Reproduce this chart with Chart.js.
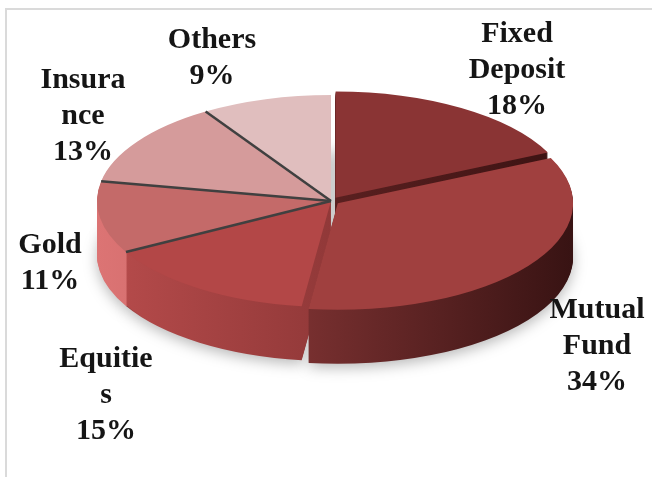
<!DOCTYPE html>
<html>
<head>
<meta charset="utf-8">
<script src="https://cdn.jsdelivr.net/npm/chart.js@4"></script>
<style>
  html, body { margin: 0; background: #fff; overflow: hidden; }
  #contenedor { position: absolute; left: 0; top: 0; width: 652px; height: 477px; }
</style>
</head>
<body>
<div id="contenedor"><canvas id="graficoInversion" width="652" height="477"></canvas></div>
<script>
// Datos del gráfico
const CATEGORIAS = [['Fixed', 'Deposit'], ['Mutual', 'Fund'], ['Equitie', 's'], ['Gold'], ['Insura', 'nce'], ['Others']];
const PORCENTAJES = [18, 34, 15, 11, 13, 9];

// Estilo de cada porción (cara superior y lateral)
const COLORES = ['#8a3434', '#a0403f', '#b34747', '#c46a69', '#d59b9b', '#e0bebe'];
const COLORES_LATERAL = [
  ['#7a2e2e', '#3a1212'],
  ['#a84545', '#381313'],
  ['#b84c4c', '#6a2525'],
  ['#dc7474', '#a44a4a'],
  ['#d89494', '#b06a6a'],
  ['#dab2b2', '#b08484']
];
const DESPLAZAMIENTO = [32, 32, 0, 0, 0, 0];

// Geometría de la elipse en pantalla
const CENTRO_X = 331;
const CENTRO_Y = 201;
const RADIO_X = 234;
const RADIO_Y = 106;
const PROFUNDIDAD = 54;

// Posición de las etiquetas: centro x, primera línea base
const POS_ETIQUETAS = [[517, 42], [597, 318], [106, 367], [50, 253], [83, 88], [212, 48]];
const ALTO_LINEA = 36;

// Aplana el pastel circular de Chart.js a una elipse
function aplicarElipse(ctx, arco) {
  const sx = RADIO_X / arco.outerRadius;
  const sy = RADIO_Y / arco.outerRadius;
  ctx.translate(CENTRO_X, CENTRO_Y);
  ctx.scale(sx, sy);
  ctx.translate(-arco.x, -arco.y);
}

const pastel3D = {
  id: 'pastel3D',
  beforeDraw(chart) {
    // Marco gris del área del gráfico (solo borde izquierdo y superior)
    const ctx = chart.ctx;
    ctx.save();
    ctx.strokeStyle = '#dadada';
    ctx.lineWidth = 2;
    ctx.beginPath();
    ctx.moveTo(6, chart.height);
    ctx.lineTo(6, 9);
    ctx.lineTo(chart.width, 9);
    ctx.stroke();
    ctx.restore();
  },
  beforeDatasetsDraw(chart) {
    const ctx = chart.ctx;
    const arcos = chart.getDatasetMeta(0).data;
    const base = arcos[0];
    const R = base.outerRadius;

    // Cara lateral: capas de abajo hacia arriba
    for (let d = PROFUNDIDAD; d >= 1; d--) {
      ctx.save();
      if (d === PROFUNDIDAD) {
        ctx.shadowColor = 'rgba(0, 0, 0, 0.28)';
        ctx.shadowBlur = 14;
        ctx.shadowOffsetY = 4;
      }
      ctx.translate(0, d);
      aplicarElipse(ctx, base);
      arcos.forEach((arco, i) => {
        const grad = ctx.createLinearGradient(base.x - R, 0, base.x + R, 0);
        grad.addColorStop(0, COLORES_LATERAL[i][0]);
        grad.addColorStop(1, COLORES_LATERAL[i][1]);
        const copia = Object.create(arco);
        copia.options = Object.assign({}, arco.options, { backgroundColor: grad, borderWidth: 0 });
        copia.draw(ctx);
      });
      ctx.restore();
    }

    // Cara superior: la dibuja Chart.js con la transformación activa
    ctx.save();
    aplicarElipse(ctx, base);
  },
  afterDatasetsDraw(chart) {
    const ctx = chart.ctx;
    ctx.restore();

    const arcos = chart.getDatasetMeta(0).data;
    const n = arcos.length;

    // Líneas entre porciones contiguas que no están separadas
    ctx.save();
    ctx.strokeStyle = '#404040';
    ctx.lineWidth = 2.5;
    for (let i = 0; i < n; i++) {
      const anterior = (i - 1 + n) % n;
      if (DESPLAZAMIENTO[i] !== 0 || DESPLAZAMIENTO[anterior] !== 0) continue;
      const a = arcos[i].startAngle;
      ctx.beginPath();
      ctx.moveTo(CENTRO_X, CENTRO_Y);
      ctx.lineTo(CENTRO_X + Math.cos(a) * RADIO_X, CENTRO_Y + Math.sin(a) * RADIO_Y);
      ctx.stroke();
    }
    ctx.restore();

    // Etiquetas de categoría y porcentaje
    ctx.save();
    ctx.font = 'bold 30px "Liberation Serif", serif';
    ctx.fillStyle = '#151515';
    ctx.textAlign = 'center';
    ctx.textBaseline = 'alphabetic';
    CATEGORIAS.forEach((lineas, i) => {
      const texto = lineas.concat([PORCENTAJES[i] + '%']);
      const [x, y] = POS_ETIQUETAS[i];
      texto.forEach((linea, j) => ctx.fillText(linea, x, y + j * ALTO_LINEA));
    });
    ctx.restore();
  }
};

function init() {
  new Chart(document.getElementById('graficoInversion'), {
    type: 'pie',
    data: {
      labels: CATEGORIAS,
      datasets: [{
        data: PORCENTAJES,
        backgroundColor: COLORES,
        borderWidth: 0,
        offset: DESPLAZAMIENTO
      }]
    },
    options: {
      responsive: false,
      animation: false,
      events: [],
      layout: { padding: 0 },
      plugins: {
        legend: { display: false },
        tooltip: { enabled: false },
        title: { display: false }
      }
    },
    plugins: [pastel3D]
  });
}

window.onload = init;
</script>
</body>
</html>
